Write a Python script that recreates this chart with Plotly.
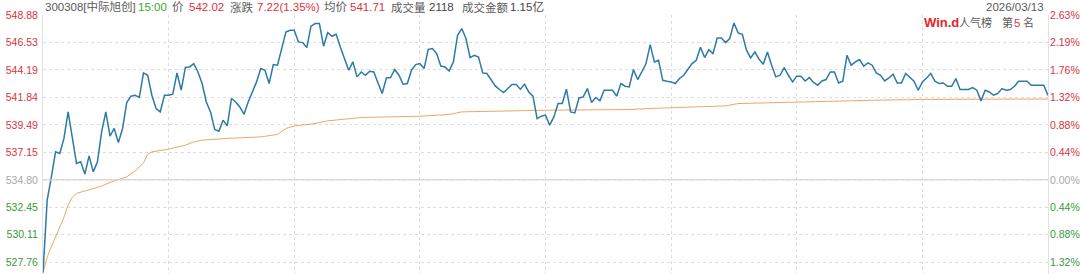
import plotly.graph_objects as go

# ---------------- data ----------------
prev_close = 534.80
price = [
    526.85, 533.07, 535.06, 537.19, 537.05, 538.34, 540.61, 538.19, 536.20, 536.34,
    535.29, 536.85, 535.48, 536.34, 538.90, 540.61, 538.53, 539.19, 537.99, 539.19,
    541.41, 541.95, 542.03, 541.84, 543.94, 543.74, 542.03, 540.90, 540.61, 542.03,
    542.03, 542.12, 543.94, 542.46, 544.40, 544.45, 544.74, 544.02, 543.03, 541.46,
    540.61, 539.10, 538.96, 539.90, 539.41, 541.75, 541.46, 541.03, 540.41, 541.46,
    542.31, 543.17, 544.31, 544.17, 543.03, 544.65, 544.60, 546.02, 547.44, 547.59,
    547.59, 546.59, 546.53, 546.11, 547.93, 548.16, 548.16, 546.22, 547.39, 547.07,
    547.24, 546.16, 545.09, 544.17, 544.88, 543.60, 544.02, 543.74, 544.08, 544.02,
    543.08, 542.18, 543.51, 543.54, 544.23, 543.74, 542.97, 543.03, 544.17, 544.65,
    544.74, 544.31, 545.96, 546.02, 545.59, 544.53, 544.45, 544.11, 544.88, 547.16,
    547.73, 546.88, 545.25, 545.45, 545.30, 543.94, 543.89, 543.31, 542.83, 542.52,
    542.26, 542.60, 542.95, 542.95, 542.55, 542.97, 542.31, 541.95, 540.04, 540.24,
    540.33, 539.47, 540.18, 541.32, 541.32, 542.55, 540.61, 540.52, 541.80, 541.89,
    542.60, 541.41, 541.84, 541.55, 542.46, 542.46, 542.46, 541.95, 543.03, 542.80,
    542.74, 544.23, 543.37, 544.02, 544.74, 546.36, 544.88, 545.02, 543.31, 543.23,
    543.17, 543.03, 543.46, 543.74, 544.25, 544.74, 545.02, 546.13, 545.25, 545.93,
    545.59, 546.92, 546.92, 546.53, 546.88, 548.21, 547.36, 547.24, 545.88, 545.22,
    545.73, 545.11, 544.68, 545.73, 544.60, 543.60, 543.74, 544.40, 543.74, 543.17,
    543.66, 543.66, 543.25, 543.54, 543.12, 542.89, 543.25, 543.37, 544.02, 544.02,
    543.08, 543.23, 545.45, 544.60, 544.88, 545.08, 544.51, 544.79, 544.60, 543.94,
    543.74, 543.25, 543.51, 543.83, 543.08, 543.08, 543.89, 543.60, 543.23, 542.46,
    543.17, 543.51, 543.89, 543.23, 543.03, 543.08, 542.80, 542.80, 543.46, 542.52,
    542.52, 542.52, 542.69, 542.46, 541.55, 542.46, 542.31, 542.03, 542.18, 542.60,
    542.46, 542.52, 542.80, 543.23, 543.23, 543.23, 542.89, 542.89, 542.89, 542.89,
    542.02,
]
minutes = list(range(len(price)))

# average price line, read at the minutes where it visibly bends
avg_minutes = [0, 1, 2, 3, 4, 5, 6, 7, 8, 10, 12, 14, 16, 18, 20, 22, 24, 25, 26,
               30, 34, 36, 38, 44, 50, 52, 56, 58, 60, 64, 68, 72, 76, 83, 90, 97,
               100, 120, 140, 145, 157, 163, 166, 180, 199, 210, 228, 240]
avg_price = [526.85, 528.20, 529.08, 529.90, 530.79, 531.60, 532.64, 533.32, 533.64,
             533.86, 534.07, 534.26, 534.58, 534.83, 535.06, 535.57, 536.25, 537.00,
             537.19, 537.42, 537.76, 538.04, 538.19, 538.34, 538.39, 538.47, 538.68,
             539.19, 539.41, 539.56, 539.84, 539.98, 540.13, 540.18, 540.24, 540.38,
             540.61, 540.75, 540.81, 540.90, 541.03, 541.12, 541.32, 541.46, 541.61,
             541.67, 541.69, 541.71]

grid_minutes = [30, 60, 90, 120, 150, 180, 210]
tick_prices = [548.88, 546.53, 544.19, 541.84, 539.49, 537.15, 534.80, 532.45, 530.11, 527.76]
tick_pct = ["2.63%", "2.19%", "1.76%", "1.32%", "0.88%", "0.44%", "0.00%", "0.44%", "0.88%", "1.32%"]

header_items = [
    ("300308[中际旭创]", "grey"), ("15:00", "green"), ("价", "grey"), ("542.02", "red"),
    ("涨跌", "grey"), ("7.22(1.35%)", "red"), ("均价", "grey"), ("541.71", "red"),
    ("成交量", "grey"), ("2118", "dark"), ("成交金额", "grey"), ("1.15亿", "dark"),
]
date_label = "2026/03/13"

# ---------------- style ----------------
W, H = 1080, 274
ML, MR, MT, MB = 43, 32, 15, 0
RED = "#d9343c"
GREEN = "#3a983a"
GREY = "#5a5a5a"
DARK = "#444444"
AXGREY = "#a8a8a8"
COLORS = {"grey": GREY, "green": "#35a835", "red": RED, "dark": DARK}
FONT = "Liberation Sans, Arial, Noto Sans CJK SC, sans-serif"

header_x = [43, 136, 170, 187, 228, 255, 322, 348, 389, 427, 460, 508]


def tick_color(v):
    if abs(v - prev_close) < 1e-6:
        return AXGREY
    return RED if v > prev_close else GREEN


left_text = [f'<span style="color:{tick_color(v)}">{v:.2f}</span>' for v in tick_prices]
right_text = [f'<span style="color:{tick_color(v)}">{t}</span>' for v, t in zip(tick_prices, tick_pct)]

y_top = 548.89
y_bot = 526.75

fig = go.Figure()
fig.add_trace(go.Scatter(x=avg_minutes, y=avg_price, mode="lines",
                         line=dict(color="#f2a464", width=1), hoverinfo="skip"))
fig.add_trace(go.Scatter(x=minutes, y=price, mode="lines",
                         line=dict(color="#2c7aa8", width=1.5), hoverinfo="skip"))
# invisible trace on right axis
fig.add_trace(go.Scatter(x=[0], y=[prev_close], yaxis="y2", mode="markers",
                         marker=dict(opacity=0), hoverinfo="skip"))

fig.add_shape(type="line", xref="paper", x0=0, x1=1, yref="y", y0=prev_close, y1=prev_close,
              line=dict(color="#d4d4d4", width=1.2))

anns = []
plot_w = W - ML - MR
plot_h = H - MT - MB


def px_x(px):
    return (px - ML) / plot_w


def px_y(py):
    return (H - MB - py) / plot_h


for (txt, col), xx in zip(header_items, header_x):
    anns.append(dict(text=txt, x=px_x(xx), y=px_y(7), xref="paper", yref="paper",
                     xanchor="left", yanchor="middle", showarrow=False,
                     font=dict(size=11.5, color=COLORS[col], family=FONT)))
anns.append(dict(text=date_label, x=px_x(1046), y=px_y(7), xref="paper", yref="paper",
                 xanchor="right", yanchor="middle", showarrow=False,
                 font=dict(size=11.5, color=GREY, family=FONT)))
rank_items = [("<b>Win.d</b>", "#e0262b", 922, 13), ("人气榜", GREY, 957, 11),
              ("第", GREY, 1000, 11), ("5", RED, 1012, 11.5), ("名", GREY, 1021, 11)]
for txt, col, xx, fs in rank_items:
    anns.append(dict(text=txt, x=px_x(xx), y=px_y(22.5), xref="paper", yref="paper",
                     xanchor="left", yanchor="middle", showarrow=False,
                     font=dict(size=fs, color=col, family=FONT)))

fig.update_layout(
    width=W, height=H, autosize=False,
    margin=dict(l=ML, r=MR, t=MT, b=MB, pad=0),
    paper_bgcolor="white", plot_bgcolor="white",
    showlegend=False,
    font=dict(family=FONT, size=10.5, color=GREY),
    xaxis=dict(range=[0, 240], tickvals=grid_minutes, showticklabels=False,
               showgrid=True, gridcolor="#dcdcdc", griddash="dot", gridwidth=1,
               zeroline=False, showline=False, ticks="", fixedrange=True),
    yaxis=dict(range=[y_bot, y_top], tickvals=tick_prices, ticktext=left_text,
               showgrid=True, gridcolor="#dcdcdc", griddash="dot", gridwidth=1,
               zeroline=False, showline=True, linecolor="#e2e2e2", linewidth=1,
               mirror=True, ticks="", ticklabelstandoff=2,
               tickfont=dict(size=10.5, family=FONT), fixedrange=True),
    yaxis2=dict(range=[y_bot, y_top], overlaying="y", side="right",
                tickvals=tick_prices, ticktext=right_text, showgrid=False,
                zeroline=False, showline=False, ticks="", ticklabelstandoff=1,
                tickfont=dict(size=10.5, family=FONT), fixedrange=True),
    annotations=anns,
)

fig.write_html("out.html", config={"displayModeBar": False, "staticPlot": True})
